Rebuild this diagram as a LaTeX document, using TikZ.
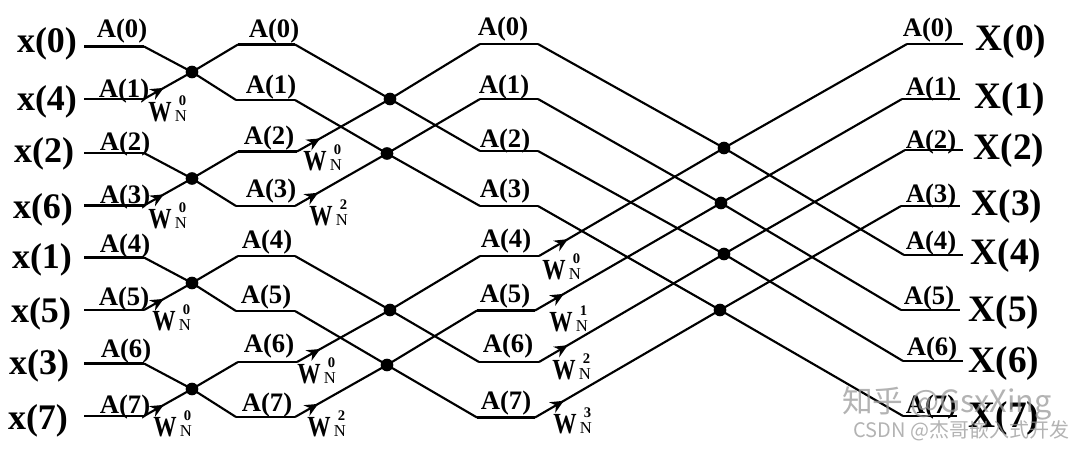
\documentclass[tikz,border=0pt]{standalone}
\usepackage{fontspec}
\setmainfont{Liberation Serif}
\newfontfamily\cjkwm{Noto Sans CJK SC}
\usetikzlibrary{arrows.meta,decorations.markings}
\newcommand{\twid}[1]{\fontsize{17.5pt}{18pt}\bfseries\scalebox{1}[1.25]{W}\kern2.5pt\rlap{\fontsize{12.5pt}{12pt}\mdseries N}\kern3pt\raisebox{12pt}{\fontsize{11pt}{11pt}\bfseries #1}}
\tikzset{
  wire/.style={draw=black,line width=1.6pt,line join=round},
  butterfly/.style={circle,fill=black,draw=none,minimum size=9.5pt,inner sep=0pt},
  inlab/.style={anchor=base,inner sep=0pt,font=\fontsize{27pt}{28pt}\bfseries},
  outlab/.style={anchor=base,inner sep=0pt,font=\fontsize{28pt}{29pt}\bfseries},
  alab/.style={anchor=base,inner sep=0pt,font=\fontsize{20pt}{21pt}\bfseries},
  wlab/.style={anchor=base west,inner sep=0pt},
  wm/.style={anchor=base west,inner sep=0pt,text=black!40,text opacity=0.75},
  arrowed/.style={postaction={decorate,decoration={markings,mark=at position #1 with {\arrow{Stealth[length=10pt,width=9pt]}}}}},
}
\begin{document}
\begin{tikzpicture}[x=0.75pt,y=-0.75pt]
\useasboundingbox (0,0) rectangle (1080,450);
% wire end coordinates: stage columns (left end, right end)
\foreach \n/\xa/\xb/\y in {0/84/144/46.5,1/84/144/99,2/84/144/153,3/84/144/205.5,4/84/144/257.5,5/84/144/310,6/84/144/363.5,7/84/144/416}{
  \coordinate (aL\n) at (\xa,\y); \coordinate (aR\n) at (\xb,\y);}
\foreach \n/\xa/\xb/\y in {0/238/295/44.5,1/236/295/100,2/238/297/151.5,3/236/295/206,4/238/295/256,5/236/295/311,6/238/297/362,7/236/295/417}{
  \coordinate (bL\n) at (\xa,\y); \coordinate (bR\n) at (\xb,\y);}
\foreach \n/\xa/\xb/\y in {0/480/538/44,1/480/538/99,2/480/538/151,3/480/538/206,4/480/539/256,5/477/535/310.5,6/479/539/362,7/477/535/417.5}{
  \coordinate (cL\n) at (\xa,\y); \coordinate (cR\n) at (\xb,\y);}
\foreach \n/\xa/\xb/\y in {0/907/963/44,1/902/960/99,2/905/963/150,3/901/960/206,4/904/963/255,5/901/960/310,6/903/963/361,7/903/957/416}{
  \coordinate (dL\n) at (\xa,\y); \coordinate (dR\n) at (\xb,\y);}
% butterfly dots
\node[butterfly] (p0) at (192,72) {};
\node[butterfly] (p1) at (192,178.5) {};
\node[butterfly] (p2) at (192,283) {};
\node[butterfly] (p3) at (192,389) {};
\node[butterfly] (q0) at (390,99) {};
\node[butterfly] (q1) at (387,153.5) {};
\node[butterfly] (q2) at (390,310) {};
\node[butterfly] (q3) at (387,365) {};
\node[butterfly] (r0) at (724,148) {};
\node[butterfly] (r1) at (721,203) {};
\node[butterfly] (r2) at (724,254) {};
\node[butterfly] (r3) at (720,310) {};
% horizontal runs
\foreach \s in {a,b,c,d}\foreach \n in {0,...,7}{\draw[wire] (\s L\n) -- (\s R\n);}
% stage 1
\draw[wire] (aR0) -- (p0.center) -- (bL1);
\draw[wire,arrowed=17pt] (aR1) -- (p0.center) -- (bL0);
\draw[wire] (aR2) -- (p1.center) -- (bL3);
\draw[wire,arrowed=17pt] (aR3) -- (p1.center) -- (bL2);
\draw[wire] (aR4) -- (p2.center) -- (bL5);
\draw[wire,arrowed=17pt] (aR5) -- (p2.center) -- (bL4);
\draw[wire] (aR6) -- (p3.center) -- (bL7);
\draw[wire,arrowed=17pt] (aR7) -- (p3.center) -- (bL6);
% stage 2
\draw[wire] (bR0) -- (q0.center) -- (cL2);
\draw[wire,arrowed=20pt] (bR2) -- (q0.center) -- (cL0);
\draw[wire] (bR1) -- (q1.center) -- (cL3);
\draw[wire,arrowed=20pt] (bR3) -- (q1.center) -- (cL1);
\draw[wire] (bR4) -- (q2.center) -- (cL6);
\draw[wire,arrowed=20pt] (bR6) -- (q2.center) -- (cL4);
\draw[wire] (bR5) -- (q3.center) -- (cL7);
\draw[wire,arrowed=20pt] (bR7) -- (q3.center) -- (cL5);
% stage 3
\draw[wire] (cR0) -- (r0.center) -- (dL4);
\draw[wire,arrowed=25pt] (cR4) -- (r0.center) -- (dL0);
\draw[wire] (cR1) -- (r1.center) -- (dL5);
\draw[wire,arrowed=25pt] (cR5) -- (r1.center) -- (dL1);
\draw[wire] (cR2) -- (r2.center) -- (dL6);
\draw[wire,arrowed=25pt] (cR6) -- (r2.center) -- (dL2);
\draw[wire] (cR3) -- (r3.center) -- (dL7);
\draw[wire,arrowed=25pt] (cR7) -- (r3.center) -- (dL3);
% input and output labels
\foreach \t/\x/\y [count=\i] in {0/47/52,4/47/110,2/44/162,6/43/218,1/42/268,5/41/322,3/39/374,7/38/429}{
  \node[inlab] (in\i) at (\x,\y) {x(\t)};}
\foreach \t/\x/\y [count=\i] in {0/1011/50,1/1010/108,2/1009/159,3/1007/215,4/1006/264,5/1004/321,6/1004/372,7/1004/427}{
  \node[outlab] (out\i) at (\x,\y) {X(\t)};}
% A(n) labels
\foreach \t/\x/\y in {0/122/37,1/124/97,2/125/150,3/125/203,4/125/252,5/124/305,6/126/357,7/125/413}{
  \node[alab] (la\t) at (\x,\y) {A(\t)};}
\foreach \t/\x/\y in {0/274/37,1/271/93,2/269/144,3/271/197,4/267/248,5/266/303,6/269/352,7/267/411}{
  \node[alab] (lb\t) at (\x,\y) {A(\t)};}
\foreach \t/\x/\y in {0/503/35,1/504/93,2/505/147,3/505/197,4/506/247,5/505/302,6/508/352,7/506/409}{
  \node[alab] (lc\t) at (\x,\y) {A(\t)};}
\foreach \t/\x/\y in {0/928/36,1/931/95,2/931/148,3/931/202,4/931/249,5/929/304,6/932/355,7/931/413}{
  \node[alab] (ld\t) at (\x,\y) {A(\t)};}
% twiddle labels
\foreach \k/\x/\y [count=\i] in {0/148/121,0/148/228,0/152/330,0/153/436,0/303/170,2/309/225,0/297/383,2/307/436,0/542/279,1/549/331,2/552/379,3/553/433}{
  \node[wlab] (tw\i) at (\x,\y) {\twid{\k}};}
% watermark
\node[wm,font=\cjkwm\fontsize{23pt}{24pt}\selectfont] (wm1) at (842,412) {知乎 @GsxXing};
\node[wm,font=\fontsize{15pt}{16pt}\selectfont\cjkwm] (wm2) at (853,437) {CSDN @杰哥嵌入式开发};
\end{tikzpicture}
\end{document}
